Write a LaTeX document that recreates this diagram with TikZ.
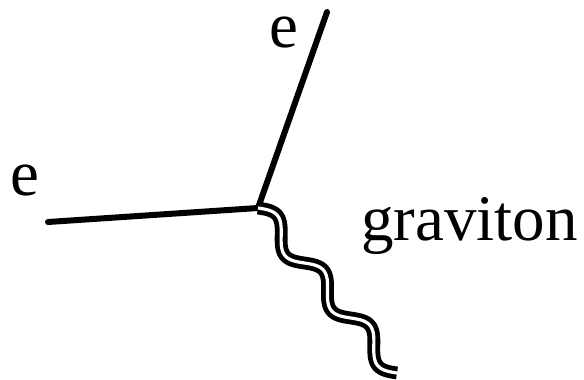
\documentclass[tikz,border=0pt]{standalone}
\usepackage{fontspec}
\setmainfont{Liberation Serif}

\begin{document}
\begin{tikzpicture}[x=1pt,y=-1pt,
  fermion/.style={line width=6pt,line cap=round},
  graviton/.style={double,line width=4.8pt,double distance=3.2pt,line join=round},
  lbl/.style={font=\fontsize{65}{65}\selectfont,inner sep=0pt}]
  \useasboundingbox (0,0) rectangle (584,380);
  \coordinate (v) at (258,208); \coordinate (ein) at (48,222); \coordinate (eout) at (327,12);
  \draw[fermion] (ein) -- (v); \draw[fermion] (v) -- (eout);
  % wave along v -> (397,373), three periods
  \draw[graviton] plot[domain=0:215.7,samples=160,smooth]
    ({258+0.6444*\x+7.649*sin(5.007*\x)},{208+0.7649*\x-6.444*sin(5.007*\x)}) coordinate (g);
  \node[lbl,anchor=base] (ein label) at (24.5,195) {e};
  \node[lbl,anchor=base] (eout label) at (283.5,47) {e};
  \node[lbl,anchor=base west] (g label) at (361,240) {graviton};
\end{tikzpicture}
\end{document}
